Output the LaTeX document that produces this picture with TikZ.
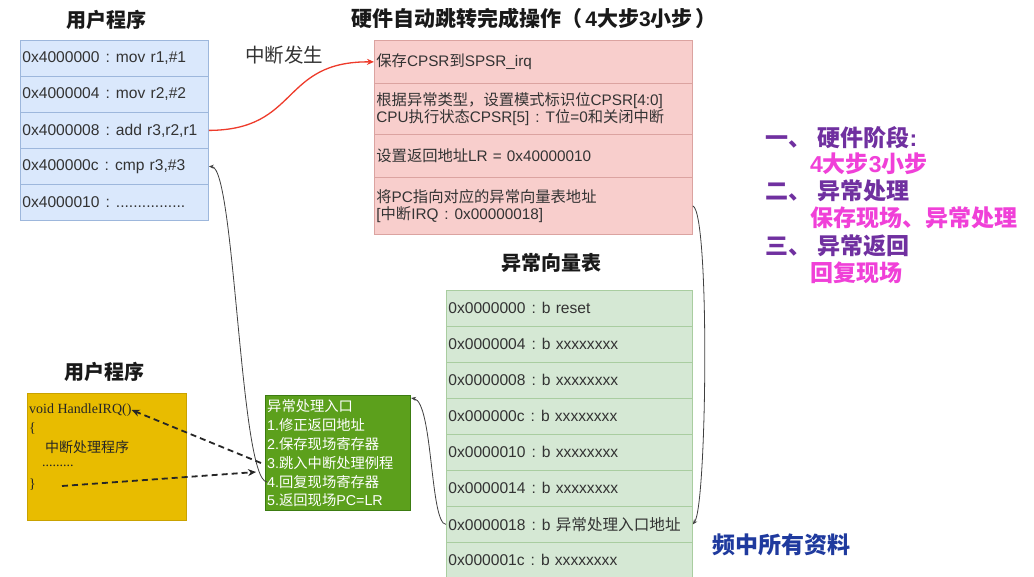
\documentclass[tikz,border=0pt]{standalone}
\usepackage{fontspec}
\usetikzlibrary{arrows.meta}
\setmainfont{Liberation Sans}
\newfontfamily\latin{Liberation Sans}
\newfontfamily\cjk{Noto Sans CJK SC}
\newfontfamily\tms{Liberation Serif}
\newXeTeXintercharclass\CJKcls
\newcount\cjkc
\cjkc="3000 \loop\XeTeXcharclass\cjkc=\CJKcls \advance\cjkc by 1 \ifnum\cjkc<"3040 \repeat
\cjkc="4E00 \loop\XeTeXcharclass\cjkc=\CJKcls \advance\cjkc by 1 \ifnum\cjkc<"A000 \repeat
\cjkc="FF00 \loop\XeTeXcharclass\cjkc=\CJKcls \advance\cjkc by 1 \ifnum\cjkc<"FFF0 \repeat
\XeTeXinterchartoks 0 \CJKcls={\cjk}
\XeTeXinterchartoks 4095 \CJKcls={\cjk}
\XeTeXinterchartoks \CJKcls 0={\latin}
\XeTeXinterchartoks \CJKcls 4095={\latin}
\XeTeXinterchartokenstate=1
\newcommand{\cln}{\hspace{6pt}:\hspace{6pt}}
\definecolor{bluefill}{HTML}{DAE8FC}
\definecolor{bluedraw}{HTML}{9DB7DC}
\definecolor{pinkfill}{HTML}{F8CECC}
\definecolor{pinkdraw}{HTML}{DBA3A0}
\definecolor{grnfill}{HTML}{D5E8D4}
\definecolor{grndraw}{HTML}{A9CDA0}
\definecolor{boxgreen}{HTML}{5CA01C}
\definecolor{boxgreendraw}{HTML}{3C7C12}
\definecolor{yel}{HTML}{E8BC00}
\definecolor{yeldraw}{HTML}{C9A200}
\definecolor{txt}{HTML}{333333}
\definecolor{purp}{HTML}{7030A0}
\definecolor{magen}{HTML}{F040D8}
\definecolor{navy}{HTML}{1F3A9E}
\definecolor{redline}{HTML}{EE3B2B}
\begin{document}
\begin{tikzpicture}[x=1pt,y=-1pt,
  ttl/.style={font=\bfseries\fontsize{20}{24}\selectfont, text=black!90, inner sep=0pt},
  lbl/.style={font=\fontsize{19.5}{23}\selectfont, text=txt, inner sep=0pt},
  rowbase/.style={anchor=north west, inner xsep=2pt, inner ysep=0pt, align=left, text=txt, font=\fontsize{15.6}{17}\selectfont, line width=0.8pt},
  brow/.style={rowbase, draw=bluedraw, fill=bluefill, text width=184pt, minimum height=36pt},
  prow/.style={rowbase, draw=pinkdraw, fill=pinkfill, text width=314pt, font=\fontsize{15.3}{17}\selectfont},
  vrow/.style={rowbase, draw=grndraw, fill=grnfill, text width=242pt, minimum height=36pt},
  gline/.style={anchor=west, inner sep=0pt, text=white, font=\fontsize{14.3}{17}\selectfont},
  yline/.style={anchor=west, inner sep=0pt, text=black!85, font=\tms\fontsize{14}{17}\selectfont},
  lst/.style={anchor=west, inner sep=0pt, font=\bfseries\fontsize{23}{27}\selectfont},
  thinarrow/.style={draw=black!75, line width=0.8pt, -{Stealth[length=5pt,width=4pt]}},
  dasharrow/.style={draw=black!85, line width=1.8pt, dash pattern=on 6pt off 4pt, -{Stealth[length=8pt,width=7pt]}}
]
\useasboundingbox (0,0) rectangle (1034,576);
\fill[white] (0,0) rectangle (1034,576);

% titles
\node[ttl] (t1) at (106,20) {用户程序};
\node[ttl, font=\bfseries\fontsize{21}{24}\selectfont] (t2) at (534,18) {硬件自动跳转完成操作（\hspace{3pt}4大步3小步\hspace{3pt}）};
\node[lbl] (t3) at (284,55) {中断发生};
\node[ttl] (t4) at (551,263) {异常向量表};
\node[ttl] (t5) at (104,372) {用户程序};

% user program table
\node[brow] (b1) at (20,40)  {0x4000000\cln mov r1,\#1};
\node[brow] (b2) at (20,76)  {0x4000004\cln mov r2,\#2};
\node[brow] (b3) at (20,112) {0x4000008\cln add r3,r2,r1};
\node[brow] (b4) at (20,148) {0x400000c\cln cmp r3,\#3};
\node[brow] (b5) at (20,184) {0x4000010\cln ................};

% hardware steps table
\node[prow, minimum height=43pt] (p1) at (374,40)  {保存CPSR到SPSR\_irq};
\node[prow, minimum height=51pt] (p2) at (374,83)  {根据异常类型，设置模式标识位CPSR[4:0]\\CPU执行状态CPSR[5]\cln T位=0和关闭中断};
\node[prow, minimum height=43pt] (p3) at (374,134) {设置返回地址LR = 0x40000010};
\node[prow, minimum height=57pt] (p4) at (374,177) {将PC指向对应的异常向量表地址\\{[}中断IRQ\cln 0x00000018]};

% vector table
\node[vrow] (g1) at (446,290) {0x0000000\cln b reset};
\node[vrow] (g2) at (446,326) {0x0000004\cln b xxxxxxxx};
\node[vrow] (g3) at (446,362) {0x0000008\cln b xxxxxxxx};
\node[vrow] (g4) at (446,398) {0x000000c\cln b xxxxxxxx};
\node[vrow] (g5) at (446,434) {0x0000010\cln b xxxxxxxx};
\node[vrow] (g6) at (446,470) {0x0000014\cln b xxxxxxxx};
\node[vrow] (g7) at (446,506) {0x0000018\cln b 异常处理入口地址};
\node[vrow] (g8) at (446,542) {0x000001c\cln b xxxxxxxx};

% exception entry box
\node[draw=boxgreendraw, fill=boxgreen, line width=0.8pt, anchor=north west, minimum width=145pt, minimum height=115pt, inner sep=0pt] (gbox) at (265,395) {};
\node[gline] (gl0) at (267,406) {异常处理入口};
\node[gline] (gl1) at (267,425) {1.修正返回地址};
\node[gline] (gl2) at (267,444) {2.保存现场寄存器};
\node[gline] (gl3) at (267,463) {3.跳入中断处理例程};
\node[gline] (gl4) at (267,482) {4.回复现场寄存器};
\node[gline] (gl5) at (267,500) {5.返回现场PC=LR};

% handler box
\node[draw=yeldraw, fill=yel, line width=0.8pt, anchor=north west, minimum width=159pt, minimum height=127pt, inner sep=0pt] (ybox) at (27,393) {};
\node[yline] (y1) at (29,410) {void HandleIRQ()};
\node[yline] (y2) at (29,429) {\{};
\node[yline] (y3) at (45,447) {中断处理程序};
\node[yline] (y4) at (42,466) {.........};
\node[yline] (y5) at (29,485) {\}};

% right list
\node[lst, text=purp]  (l1) at (765,138) {一、 硬件阶段:};
\node[lst, text=magen] (l2) at (810,164) {4大步3小步};
\node[lst, text=purp]  (l3) at (765,191) {二、 异常处理};
\node[lst, text=magen] (l4) at (810,218) {保存现场、异常处理};
\node[lst, text=purp]  (l5) at (765,246) {三、 异常返回};
\node[lst, text=magen] (l6) at (810,273) {回复现场};

\node[lst, text=navy] (wm) at (712,545) {频中所有资料};

% coordinates
\coordinate (gboxin) at (411,398);
\coordinate (retin) at (256,472);
\coordinate (yend) at (62,486);

% connectors
\draw[draw=redline, line width=1.3pt, -{Stealth[length=7pt,width=6pt]}] (b3.east) .. controls (300,130) and (280,61) .. (p1.west);
\draw[thinarrow] (p4.east) .. controls (710,212) and (707,505) .. (g7.east);
\draw[thinarrow] (g7.west) .. controls (430,524) and (433,402) .. (gboxin);
\draw[thinarrow] (gl4.west) .. controls (240,480) and (235,168) .. (b4.east);
\draw[dasharrow] ([xshift=-6pt]gl3.west) -- (y1.east);
\draw[dasharrow] (yend) -- (retin);
\end{tikzpicture}
\end{document}
